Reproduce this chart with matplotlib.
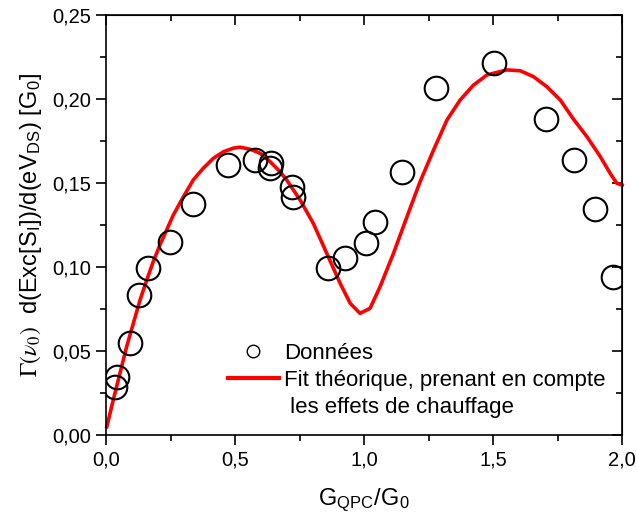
import matplotlib
matplotlib.use("Agg")
import matplotlib.pyplot as plt
from matplotlib.lines import Line2D
from matplotlib.ticker import MultipleLocator, FuncFormatter

plt.rcParams["font.family"] = ["Liberation Sans", "DejaVu Sans"]
plt.rcParams["mathtext.fontset"] = "stix"

# measured points
g_data = [0.035, 0.043, 0.093, 0.128, 0.163, 0.248, 0.337, 0.473, 0.578, 0.636,
          0.640, 0.721, 0.725, 0.860, 0.926, 1.008, 1.043, 1.147, 1.279, 1.504,
          1.705, 1.814, 1.895, 1.965]
s_data = [0.0286, 0.0345, 0.0548, 0.0833, 0.0994, 0.1149, 0.1375, 0.1607, 0.1637, 0.1589,
          0.1619, 0.1476, 0.1417, 0.0994, 0.1054, 0.1143, 0.1268, 0.1565, 0.2065, 0.2214,
          0.1881, 0.1637, 0.1345, 0.0940]

# theoretical fit
g_fit = [0.003, 0.028, 0.054, 0.080, 0.106, 0.132, 0.158, 0.183, 0.209, 0.235,
         0.261, 0.300, 0.338, 0.377, 0.416, 0.455, 0.493, 0.519, 0.558, 0.597,
         0.636, 0.674, 0.700, 0.752, 0.803, 0.855, 0.907, 0.946, 0.984, 1.023,
         1.062, 1.114, 1.166, 1.217, 1.269, 1.321, 1.372, 1.424, 1.476, 1.553,
         1.605, 1.656, 1.708, 1.760, 1.811, 1.863, 1.915, 1.953, 1.979, 2.000]
s_fit = [0.0049, 0.0208, 0.0367, 0.0526, 0.0665, 0.0804, 0.0923, 0.1032, 0.1131, 0.1220,
         0.1310, 0.1418, 0.1518, 0.1588, 0.1647, 0.1686, 0.1707, 0.1713, 0.1701, 0.1677,
         0.1627, 0.1567, 0.1518, 0.1399, 0.1260, 0.1082, 0.0903, 0.0784, 0.0724, 0.0754,
         0.0883, 0.1082, 0.1299, 0.1508, 0.1696, 0.1875, 0.1994, 0.2083, 0.2143, 0.2173,
         0.2168, 0.2133, 0.2073, 0.1994, 0.1880, 0.1776, 0.1657, 0.1558, 0.1498, 0.1488]

fig = plt.figure(figsize=(6.37, 5.29), dpi=100)
ax = fig.add_axes([0.1664, 0.1777, 0.8104, 0.794])

ax.plot(g_data, s_data, "o", mfc="none", mec="black", ms=17, mew=1.5, zorder=3)
ax.plot(g_fit, s_fit, "-", color="#ff0000", lw=2.6, zorder=2, clip_on=False)

ax.set_xlim(0, 2.0)
ax.set_ylim(0, 0.25)
ax.xaxis.set_major_locator(MultipleLocator(0.5))
ax.xaxis.set_minor_locator(MultipleLocator(0.25))
ax.yaxis.set_major_locator(MultipleLocator(0.05))
ax.yaxis.set_minor_locator(MultipleLocator(0.025))
ax.xaxis.set_major_formatter(FuncFormatter(lambda v, p: f"{v:.1f}".replace(".", ",")))
ax.yaxis.set_major_formatter(FuncFormatter(lambda v, p: f"{v:.2f}".replace(".", ",")))

ax.tick_params(which="both", direction="out", labelsize=14.5, width=1.2, pad=4)
ax.tick_params(which="major", length=7)
ax.tick_params(which="minor", length=4)
for s in ax.spines.values():
    s.set_linewidth(1.2)

# inward ticks on top and right
top = ax.secondary_xaxis("top")
top.xaxis.set_major_locator(MultipleLocator(0.5))
top.xaxis.set_minor_locator(MultipleLocator(0.25))
top.tick_params(which="both", direction="in", labeltop=False, width=1.2)
top.tick_params(which="major", length=7)
top.tick_params(which="minor", length=4)
right = ax.secondary_yaxis("right")
right.yaxis.set_major_locator(MultipleLocator(0.05))
right.yaxis.set_minor_locator(MultipleLocator(0.025))
right.tick_params(which="both", direction="in", labelright=False, width=1.2)
right.tick_params(which="major", length=7)
right.tick_params(which="minor", length=4)

ax.set_xlabel(r"G$_\mathregular{QPC}$/G$_\mathregular{0}$", fontsize=17, labelpad=12)
ax.set_ylabel(r"$\Gamma(\nu_0)$  d(Exc[S$_\mathregular{I}$])/d(eV$_\mathregular{DS}$) [G$_\mathregular{0}$]",
              fontsize=17, labelpad=6)

handles = [
    Line2D([], [], ls="none", marker="o", mfc="none", mec="black", ms=9, mew=1.0),
    Line2D([], [], color="#ff0000", lw=3),
    Line2D([], [], color="none"),
]
labels = ["Données", "Fit théorique, prenant en compte", " les effets de chauffage"]
ax.legend(handles, labels, loc="upper left", bbox_to_anchor=(0.236, 0.219),
          frameon=False, fontsize=16, handlelength=2.3, handletextpad=0.22,
          labelspacing=0.27, borderpad=0, borderaxespad=0)

fig.savefig("out.png", dpi=100)
